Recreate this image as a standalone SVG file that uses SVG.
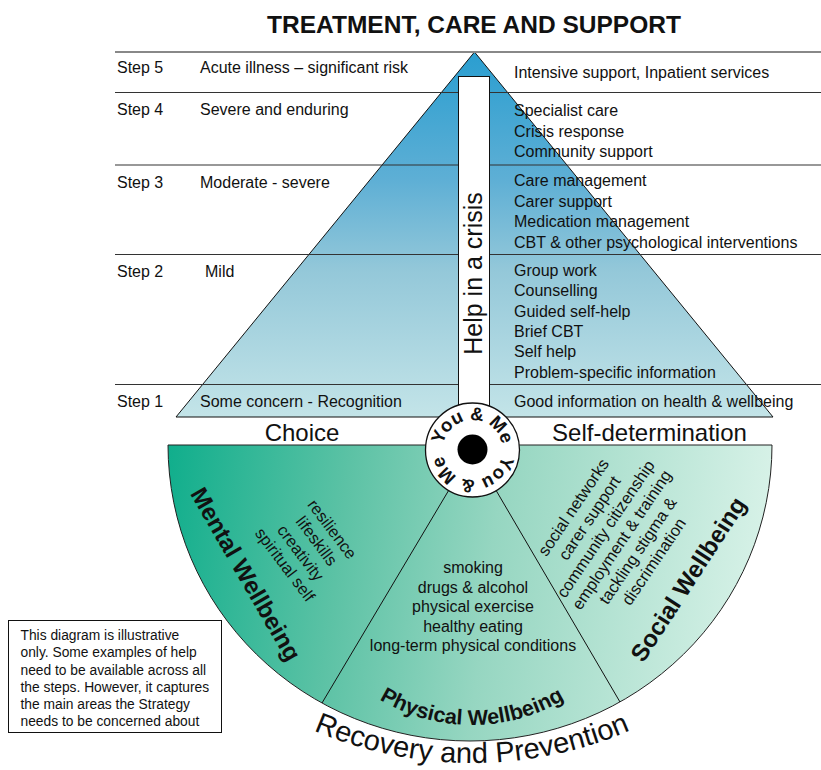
<svg xmlns="http://www.w3.org/2000/svg" width="821" height="770" viewBox="0 0 821 770">
<defs>
<linearGradient id="pyrGrad" gradientUnits="userSpaceOnUse" x1="0" y1="52" x2="0" y2="417">
<stop offset="0" stop-color="#2a9ed0"/>
<stop offset="0.35" stop-color="#5eafd5"/>
<stop offset="0.6" stop-color="#94c8d9"/>
<stop offset="1" stop-color="#c3e4e8"/>
</linearGradient>
<linearGradient id="greenGrad" gradientUnits="userSpaceOnUse" x1="168" y1="445" x2="772" y2="520">
<stop offset="0" stop-color="#10ae8c"/>
<stop offset="0.3" stop-color="#5cc2a5"/>
<stop offset="0.55" stop-color="#96d6c1"/>
<stop offset="1" stop-color="#d8f2e8"/>
</linearGradient>
<path id="ymTop" d="M 444.3 460.3 A 30 30 0 1 1 500.7 460.3"/>
<path id="ymBot" d="M 500.7 439.7 A 30 30 0 1 1 444.3 439.7"/>
<path id="physArc" d="M 334.1 660.7 A 180 180 0 0 0 609.9 660.7"/>
<path id="recArc" d="M 242.6 690.7 A 400 400 0 0 0 701.4 690.7"/>
</defs>
<style>
text{font-family:"Liberation Sans",Arial,sans-serif;fill:#111}
.s16{font-size:16px}
.big{font-size:24px}
.bold{font-weight:bold}
.rule{stroke:#333;stroke-width:1.2}
.edge{stroke:#111;stroke-width:1;fill:none}
</style>

<g id="title">
<text x="474" y="33" font-size="24.5" class="bold" text-anchor="middle">TREATMENT, CARE AND SUPPORT</text>
</g>

<g id="pyramid">
<polygon points="474.5,52 773,417 176,417" fill="url(#pyrGrad)" stroke="#111" stroke-width="1"/>
</g>

<g id="step-rules">
<line x1="115" y1="52" x2="821" y2="52" stroke="#888" stroke-width="2"/>
<line x1="115" y1="92.5" x2="821" y2="92.5" class="rule"/>
<line x1="115" y1="165" x2="821" y2="165" class="rule"/>
<line x1="115" y1="254.5" x2="821" y2="254.5" class="rule"/>
<line x1="115" y1="384.5" x2="821" y2="384.5" class="rule"/>
</g>

<g id="step5">
<text x="117" y="73" class="s16">Step 5</text>
<text x="200" y="73" class="s16">Acute illness – significant risk</text>
<text x="514" y="77.5" class="s16">Intensive support, Inpatient services</text>
</g>
<g id="step4">
<text x="117" y="115" class="s16">Step 4</text>
<text x="200" y="115" class="s16">Severe and enduring</text>
<text x="514" y="116" class="s16">Specialist care</text>
<text x="514" y="136.5" class="s16">Crisis response</text>
<text x="514" y="157" class="s16">Community support</text>
</g>
<g id="step3">
<text x="117" y="188" class="s16">Step 3</text>
<text x="200" y="188" class="s16">Moderate - severe</text>
<text x="514" y="186" class="s16">Care management</text>
<text x="514" y="206.5" class="s16">Carer support</text>
<text x="514" y="227" class="s16">Medication management</text>
<text x="514" y="247.5" class="s16">CBT &amp; other psychological interventions</text>
</g>
<g id="step2">
<text x="117" y="277" class="s16">Step 2</text>
<text x="205" y="277" class="s16">Mild</text>
<text x="514" y="275.5" class="s16">Group work</text>
<text x="514" y="296" class="s16">Counselling</text>
<text x="514" y="316.5" class="s16">Guided self-help</text>
<text x="514" y="336.5" class="s16">Brief CBT</text>
<text x="514" y="357" class="s16">Self help</text>
<text x="514" y="377.5" class="s16">Problem-specific information</text>
</g>
<g id="step1">
<text x="117" y="407" class="s16">Step 1</text>
<text x="200" y="407" class="s16">Some concern - Recognition</text>
<text x="514" y="406.5" class="s16">Good information on health &amp; wellbeing</text>
</g>

<g id="wellbeing-fan">
<path d="M 168 445 L 772 445 A 302 296 0 0 1 168 445 Z" fill="url(#greenGrad)" stroke="#222" stroke-width="1"/>
</g>

<g id="crisis-bar">
<rect x="458.5" y="76.5" width="31" height="340" fill="#fff" stroke="#111" stroke-width="1"/>
<text transform="translate(481.5,273.5) rotate(-90)" font-size="25" text-anchor="middle">Help in a crisis</text>
</g>

<g id="choice">
<text x="302" y="441" class="big" text-anchor="middle">Choice</text>
</g>
<g id="self-determination">
<text x="649.5" y="441" class="big" text-anchor="middle">Self-determination</text>
</g>

<g id="connectors">
<line x1="448.6" y1="490.5" x2="322" y2="703" class="edge"/>
<line x1="496.2" y1="490.6" x2="620" y2="702" class="edge"/>
</g>

<g id="you-and-me">
<circle cx="472.5" cy="450" r="47" fill="#fff" stroke="#111" stroke-width="1.3"/>
<circle cx="472.5" cy="449.5" r="15" fill="#000"/>
<text font-size="18.5" class="bold"><textPath href="#ymTop" startOffset="50%" text-anchor="middle">You &amp; Me</textPath></text>
<text font-size="18.5" class="bold"><textPath href="#ymBot" startOffset="50%" text-anchor="middle">You &amp; Me</textPath></text>
</g>

<g id="mental-wellbeing">
<text transform="translate(246,574) rotate(60)" y="8.5" class="big bold" text-anchor="middle">Mental Wellbeing</text>
<g transform="translate(308.5,547) rotate(53)" font-size="16.5" text-anchor="middle">
<text x="0" y="-24">resilience</text>
<text x="0" y="-4.5">lifeskills</text>
<text x="0" y="15.5">creativity</text>
<text x="0" y="35">spiritual self</text>
</g>
</g>

<g id="physical-wellbeing">
<g class="s16" text-anchor="middle">
<text x="473" y="573">smoking</text>
<text x="473" y="592.5">drugs &amp; alcohol</text>
<text x="473" y="611.5">physical exercise</text>
<text x="473" y="631.5">healthy eating</text>
<text x="473" y="651">long-term physical conditions</text>
</g>
<text font-size="21.5" class="bold"><textPath href="#physArc" startOffset="50%" text-anchor="middle">Physical Wellbeing</textPath></text>
</g>

<g id="social-wellbeing">
<text transform="translate(688,579) rotate(-57)" y="8.5" class="big bold" text-anchor="middle">Social Wellbeing</text>
<g transform="translate(613.75,534.5) rotate(-56)" font-size="16.5" text-anchor="middle">
<text x="0" y="-43">social networks</text>
<text x="0" y="-23.6">carer support</text>
<text x="0" y="-4.2">community citizenship</text>
<text x="0" y="15.2">employment &amp; training</text>
<text x="0" y="34.6">tackling stigma &amp;</text>
<text x="0" y="54">discrimination</text>
</g>
</g>

<g id="recovery-prevention">
<text font-size="29"><textPath href="#recArc" startOffset="50%" text-anchor="middle">Recovery and Prevention</textPath></text>
</g>

<g id="note">
<rect x="8.5" y="620.5" width="213" height="112" fill="#fff" stroke="#111" stroke-width="1"/>
<g font-size="13.8">
<text x="20.5" y="639.5">This diagram is illustrative</text>
<text x="20.5" y="657">only. Some examples of help</text>
<text x="20.5" y="674.5">need to be available across all</text>
<text x="20.5" y="691.5">the steps. However, it captures</text>
<text x="20.5" y="708.5">the main areas the Strategy</text>
<text x="20.5" y="726">needs to be concerned about</text>
</g>
</g>
</svg>
